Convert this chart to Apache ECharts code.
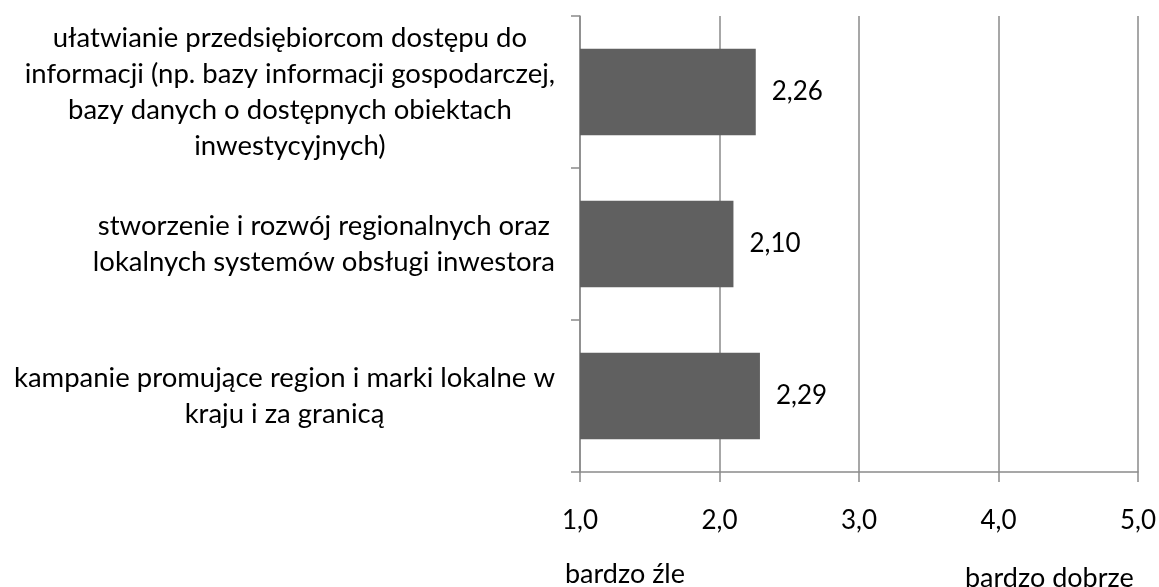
<!DOCTYPE html>
<html>
<head>
<meta charset="utf-8">
<script src="https://cdn.jsdelivr.net/npm/echarts@6/dist/echarts.min.js"></script>
<style>
    html, body { margin: 0; padding: 0; background: #fff; }
    #chart { width: 1159px; height: 587px; }
</style>
</head>
<body>
<div id="chart"></div>
<script>
// categories listed bottom to top (ECharts category y-axis starts at the bottom)
var categories = [
    "kampanie promujące region i marki lokalne w\nkraju i za granicą",
    "stworzenie i rozwój regionalnych oraz\nlokalnych systemów obsługi inwestora",
    "ułatwianie przedsiębiorcom dostępu do\ninformacji (np. bazy informacji gospodarczej,\nbazy danych o dostępnych obiektach\ninwestycyjnych)"
];
var values = [2.29, 2.10, 2.26];
var scaleMin = 1;
var scaleMax = 5;
var scaleStep = 1;

var font = "Lato, 'Open Sans', sans-serif";
var gridColor = "#8a8a8a";

var chart = echarts.init(document.getElementById("chart"));
var option = {
    backgroundColor: "#fff",
    animation: false,
    grid: { left: 580, right: 19, top: 16, bottom: 115 },
    xAxis: {
        type: "value",
        min: scaleMin,
        max: scaleMax,
        interval: scaleStep,
        axisLine: { show: true, lineStyle: { color: gridColor, width: 1.5 } },
        axisTick: { show: true, length: 10, lineStyle: { color: gridColor, width: 1.5 } },
        splitLine: { show: true, lineStyle: { color: gridColor, width: 1.5 } },
        axisLabel: {
            margin: 36,
            fontFamily: font,
            fontSize: 26,
            color: "#000",
            formatter: function (v) { return v.toFixed(1).replace(".", ","); }
        }
    },
    yAxis: {
        type: "category",
        data: categories,
        axisLine: { show: true, lineStyle: { color: gridColor, width: 1.5 } },
        axisTick: { show: true, length: 9, lineStyle: { color: gridColor, width: 1.5 } },
        axisLabel: {
            margin: 25,
            align: "right",
            fontFamily: font,
            fontSize: 27.5,
            lineHeight: 36,
            color: "#000",
            formatter: function (v) { return "{c|" + v + "}"; },
            rich: {
                c: { align: "center", fontFamily: font, fontSize: 27.5, lineHeight: 36, color: "#000" }
            }
        }
    },
    series: [{
        type: "bar",
        data: values,
        barCategoryGap: "43%",
        itemStyle: { color: "#606060" },
        label: {
            show: true,
            position: "right",
            distance: 16,
            fontFamily: font,
            fontSize: 26,
            color: "#000",
            formatter: function (p) { return p.value.toFixed(2).replace(".", ","); }
        }
    }],
    graphic: [
        { type: "text", left: 565, top: 561, style: { text: "bardzo źle", font: "27px " + font, fill: "#000" } },
        { type: "text", left: 965, top: 565, style: { text: "bardzo dobrze", font: "27px " + font, fill: "#000" } }
    ]
};
chart.setOption(option);
</script>
</body>
</html>
